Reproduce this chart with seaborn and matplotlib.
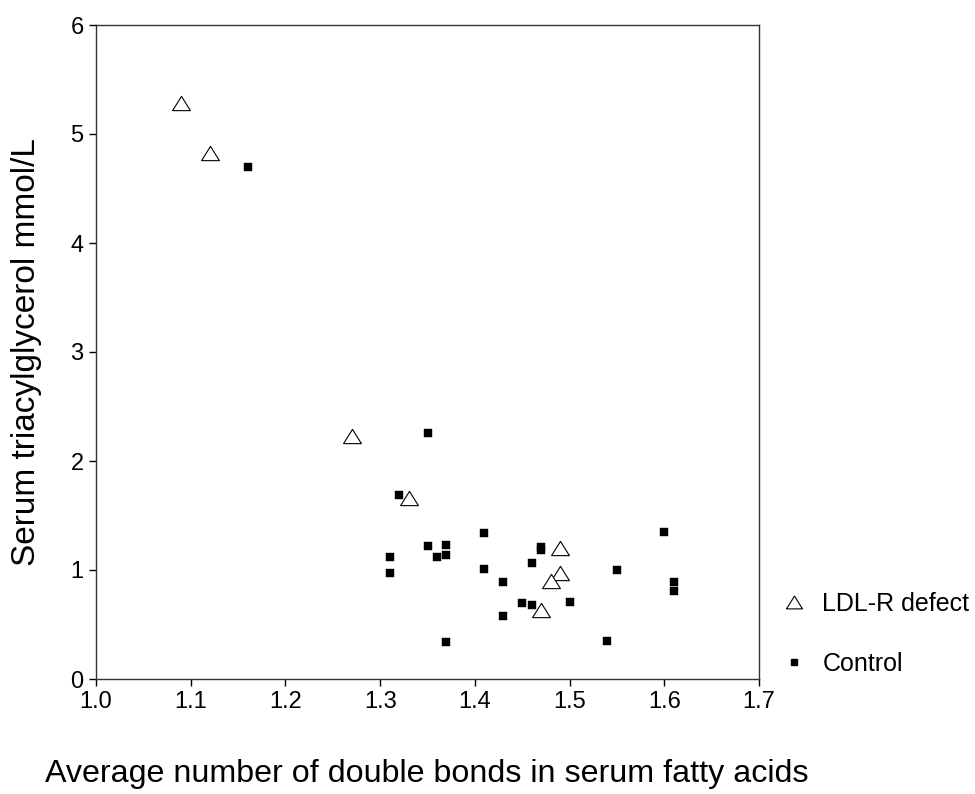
import numpy as np
import pandas as pd
import matplotlib
matplotlib.use("Agg")
import matplotlib.pyplot as plt
import seaborn as sns
from matplotlib.lines import Line2D

# Data
ldlr_x = [1.09, 1.12, 1.27, 1.33, 1.49, 1.49, 1.48, 1.47]
ldlr_y = [5.28, 4.83, 2.23, 1.66, 1.20, 0.975, 0.90, 0.63]

control_x = [1.16, 1.35, 1.32, 1.35, 1.37, 1.37, 1.36, 1.31, 1.31, 1.41, 1.41, 1.37,
             1.47, 1.47, 1.46, 1.43, 1.43, 1.45, 1.46, 1.50, 1.54, 1.55, 1.60, 1.61, 1.61]
control_y = [4.70, 2.26, 1.69, 1.22, 1.23, 1.14, 1.12, 1.12, 0.97, 1.34, 1.01, 0.34,
             1.21, 1.18, 1.06, 0.89, 0.58, 0.70, 0.68, 0.71, 0.35, 1.00, 1.35, 0.89, 0.81]

group_labels = ["LDL-R defect", "Control"]
x_ticks = [1.0, 1.1, 1.2, 1.3, 1.4, 1.5, 1.6, 1.7]
y_ticks = [0, 1, 2, 3, 4, 5, 6]

df_ldlr = pd.DataFrame({"x": ldlr_x, "y": ldlr_y, "group": group_labels[0]})
df_ctrl = pd.DataFrame({"x": control_x, "y": control_y, "group": group_labels[1]})

sns.set_theme(style="ticks")
plt.rcParams["font.family"] = ["Liberation Sans", "DejaVu Sans"]
plt.rcParams["text.color"] = "black"
plt.rcParams["axes.labelcolor"] = "black"
plt.rcParams["xtick.color"] = "black"
plt.rcParams["ytick.color"] = "black"

fig = plt.figure(figsize=(9.75, 7.94), dpi=100)
ax = fig.add_axes([96 / 975, 1 - 679 / 794, (759 - 96) / 975, (679 - 25) / 794])

tri = [(-1.0, -0.8), (1.0, -0.8), (0.0, 0.8), (-1.0, -0.8)]

sns.scatterplot(data=df_ctrl, x="x", y="y", ax=ax, marker="s", s=26,
                color="black", edgecolor="black", linewidth=0.3, legend=False, zorder=3)
sns.scatterplot(data=df_ldlr, x="x", y="y", ax=ax, marker=tri, s=165,
                facecolor="white", edgecolor="black", linewidth=0.8, legend=False, zorder=4)

ax.set_xlim(1.0, 1.7)
ax.set_ylim(0, 6)
ax.set_xticks(x_ticks)
ax.set_xticklabels([f"{v:.1f}" for v in x_ticks])
ax.set_yticks(y_ticks)
ax.set_yticklabels([str(v) for v in y_ticks])
ax.tick_params(axis="both", labelsize=17, length=5, width=1, color="black", pad=4,
               labelcolor="black")
for sp in ax.spines.values():
    sp.set_visible(True)
    sp.set_linewidth(1.0)
    sp.set_color("#333333")

ax.set_xlabel("")
ax.set_ylabel("Serum triacylglycerol mmol/L", fontsize=24, labelpad=20, color="black")
fig.text(45 / 975, 1 - 782 / 794,
         "Average number of double bonds in serum fatty acids",
         fontsize=23.2, ha="left", va="baseline", color="black")

handles = [
    Line2D([], [], linestyle="none", marker=tri, markersize=11.5,
           markerfacecolor="white", markeredgecolor="black", markeredgewidth=0.8),
    Line2D([], [], linestyle="none", marker="s", markersize=5,
           markerfacecolor="black", markeredgecolor="black"),
]
leg = fig.legend(handles, group_labels, loc="center left",
                 bbox_to_anchor=(771 / 975, 1 - 634 / 794), frameon=False,
                 fontsize=18, handlelength=1.0, handletextpad=0.65, labelspacing=1.45,
                 borderaxespad=0.0)
for t in leg.get_texts():
    t.set_color("black")

fig.savefig("out.png", dpi=100)
